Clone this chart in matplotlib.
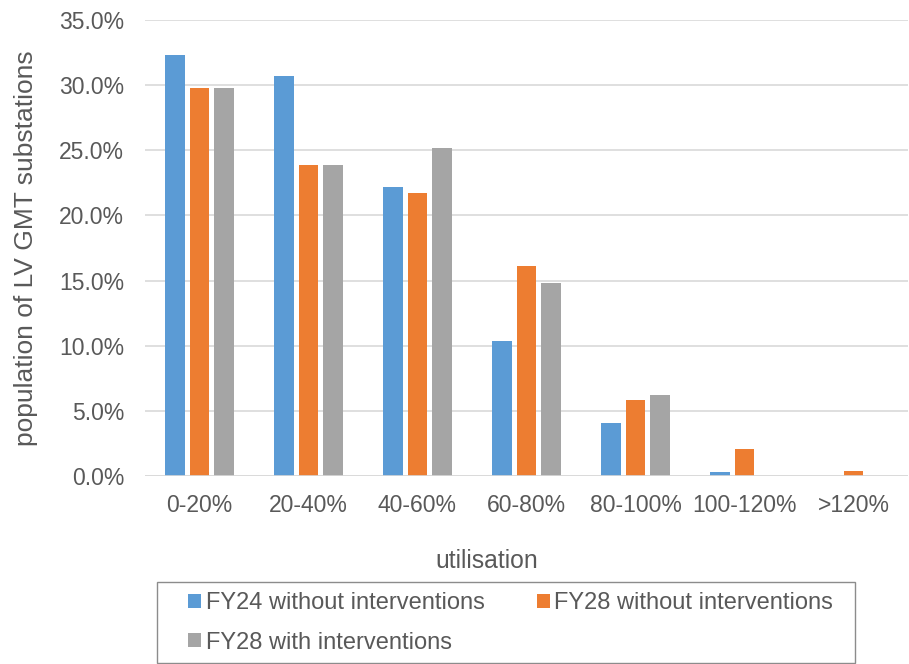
import numpy as np
import matplotlib
matplotlib.use("Agg")
import matplotlib.pyplot as plt
from matplotlib.patches import Rectangle
from matplotlib.ticker import FuncFormatter

plt.rcParams['font.family'] = ['Liberation Sans', 'DejaVu Sans']

# data (share of substations, %)
categories = ["0-20%", "20-40%", "40-60%", "60-80%", "80-100%", "100-120%", ">120%"]
fy24_without = [32.3, 30.7, 22.2, 10.4, 4.1, 0.3, 0.0]
fy28_without = [29.8, 23.9, 21.7, 16.1, 5.8, 2.1, 0.4]
fy28_with = [29.8, 23.9, 25.2, 14.8, 6.2, 0.0, 0.0]
series_names = ["FY24 without interventions", "FY28 without interventions",
                "FY28 with interventions"]
colors = ["#5B9BD5", "#ED7D31", "#A5A5A5"]
text_col = "#595959"

W, H = 909, 664
fig = plt.figure(figsize=(W / 100, H / 100), dpi=100)
ax = fig.add_axes([145 / W, 1 - 476 / H, 763 / W, 456 / H])

x = np.arange(len(categories))
w = 0.175
step = 0.225
handles = []
for i, (vals, name, c) in enumerate(zip([fy24_without, fy28_without, fy28_with],
                                        series_names, colors)):
    b = ax.bar(x + (i - 1) * step, vals, w, color=c, label=name, zorder=3)
    handles.append(b)

ax.set_xlim(-0.5, len(categories) - 0.5)
ax.set_ylim(0, 35)
ax.set_yticks(np.arange(0, 36, 5))
ax.yaxis.set_major_formatter(FuncFormatter(lambda v, p: f"{v:.1f}%"))
ax.set_xticks(x)
ax.set_xticklabels(categories)
ax.grid(axis="y", color="#D9D9D9", linewidth=1.2, zorder=0)
for s in ["top", "right", "left", "bottom"]:
    ax.spines[s].set_visible(False)
ax.axhline(0, color="#D9D9D9", linewidth=1.2, zorder=4)
ax.tick_params(axis="both", length=0, labelcolor=text_col, labelsize=16.5)
ax.tick_params(axis="x", pad=13)
ax.tick_params(axis="y", pad=15)

fig.text(26 / W, 1 - 248 / H, "population of LV GMT substations", rotation=90,
         ha="center", va="center", fontsize=19, color=text_col)
fig.text(487 / W, 1 - 568 / H, "utilisation", ha="center", va="baseline",
         fontsize=17.8, color=text_col)

# legend fills column-wise, so reorder to get the reference row layout
leg_handles = [handles[0], handles[2], handles[1]]
leg = fig.legend(handles=leg_handles, loc="upper left", ncol=2,
                 bbox_to_anchor=(188 / W, 1 - 592 / H),
                 frameon=False, fontsize=17,
                 handlelength=0.55, handleheight=0.55, handletextpad=0.2,
                 columnspacing=2.2, labelspacing=0.75, borderpad=0,
                 borderaxespad=0, labelcolor=text_col)
fig.patches.append(Rectangle((157 / W, 1 - 663 / H), 698 / W, 81 / H,
                             transform=fig.transFigure, fill=False,
                             edgecolor="#8C8C8C", linewidth=1.0))

fig.savefig("out.png", dpi=100)
